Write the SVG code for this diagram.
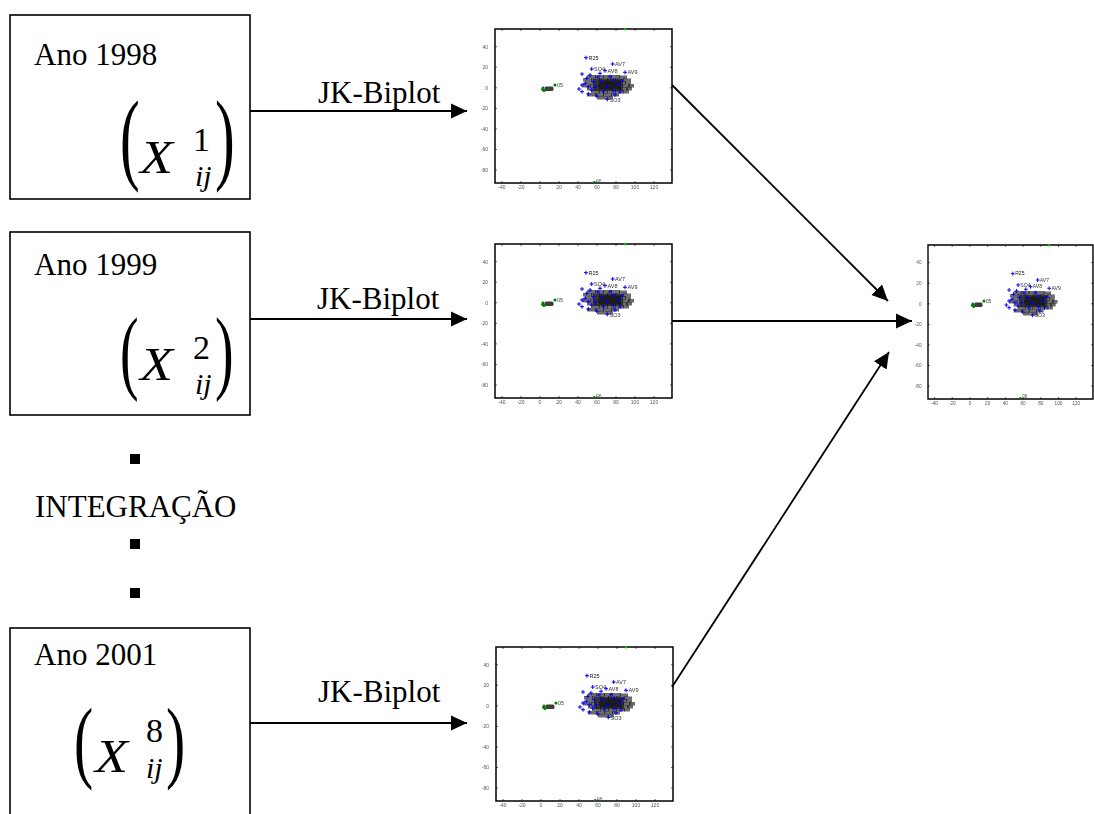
<svg xmlns="http://www.w3.org/2000/svg" xmlns:xlink="http://www.w3.org/1999/xlink" width="1094" height="814" viewBox="0 0 1094 814">
  <style>
    .box{fill:#fff;stroke:#000;stroke-width:1.6}
    .txt{font-family:"Liberation Serif","Times New Roman",serif;font-size:31px;fill:#000}
    .mx{font-family:"Liberation Serif","Times New Roman",serif;font-style:italic;font-size:47px;fill:#000}
    .sup{font-family:"Liberation Serif","Times New Roman",serif;font-size:34px;fill:#000}
    .sub{font-family:"Liberation Serif","Times New Roman",serif;font-style:italic;font-size:30px;fill:#000}
    .par{font-family:"Liberation Serif","Times New Roman",serif;fill:#000}
    .conn{fill:none;stroke:#000;stroke-width:1.8;marker-end:url(#ah)}
    .tk{font-family:"Liberation Sans",Arial,sans-serif;font-size:5px;fill:#555}
    .pl{font-family:"Liberation Sans",Arial,sans-serif;font-size:5.5px;fill:#333}
    .mass{fill:#111;fill-opacity:0.62}
  </style>
  <defs>
    <marker id="ah" markerUnits="userSpaceOnUse" markerWidth="17" markerHeight="16" refX="16" refY="8" orient="auto">
      <path d="M0,0.5 L16,8 L0,15.5 z" fill="#000"/>
    </marker>
    <filter id="soft" x="-10%" y="-10%" width="120%" height="120%">
      <feGaussianBlur stdDeviation="0.4"/>
    </filter>
    <!-- biplot panel in local coordinates: frame 177 x 154 -->
    <g id="biplot">
      <rect x="0" y="0" width="177" height="154" fill="#fff" stroke="#000" stroke-width="1.5"/>
      <!-- tick marks -->
      <path stroke="#000" stroke-width="0.6" fill="none" d="M7,154v-2M26,154v-2M45,154v-2M64,154v-2M83,154v-2M102,154v-2M121,154v-2M140,154v-2M159,154v-2M7,0v2M26,0v2M45,0v2M64,0v2M83,0v2M102,0v2M121,0v2M140,0v2M159,0v2M0,17.7h2M0,38.2h2M0,58.8h2M0,79.4h2M0,99.9h2M0,120.5h2M0,141h2M177,17.7h-2M177,38.2h-2M177,58.8h-2M177,79.4h-2M177,99.9h-2M177,120.5h-2M177,141h-2"/>
      <!-- axis labels -->
      <g class="tk" text-anchor="end">
        <text x="-7" y="19.5">40</text>
        <text x="-7" y="40">20</text>
        <text x="-7" y="60.6">0</text>
        <text x="-7" y="81.2">-20</text>
        <text x="-7" y="101.7">-40</text>
        <text x="-7" y="122.3">-60</text>
        <text x="-7" y="142.8">-80</text>
      </g>
      <g class="tk" text-anchor="middle">
        <text x="7" y="160">-40</text>
        <text x="26" y="160">-20</text>
        <text x="45" y="160">0</text>
        <text x="64" y="160">20</text>
        <text x="83" y="160">40</text>
        <text x="102" y="160">60</text>
        <text x="121" y="160">80</text>
        <text x="140" y="160">100</text>
        <text x="159" y="160">120</text>
      </g>
      <!-- overlapping variable labels form a dark mass -->
      <path class="mass" d="M92,46h9v3.6h-9zM108,46h9v3.6h-9zM124,46.5h8v3.6h-8zM88,49h9v3.6h-9zM104,49h9v3.6h-9zM120,49h9v3.6h-9zM90,52h9v3.6h-9zM106,52h9v3.6h-9zM122,52h9v3.6h-9zM87,55h9v3.6h-9zM103,55h9v3.6h-9zM119,55h9v3.6h-9zM133,55h6v3.6h-6zM92,58h9v3.6h-9zM108,58h9v3.6h-9zM124,58h9v3.6h-9zM96,61h9v3.6h-9zM112,61h9v3.6h-9zM128,61h6v3.6h-6zM92,64h9v3.6h-9zM108,64h9v3.6h-9zM102,67h8v3.4h-8z"/>
      <path class="mass" d="M100,46h9v3.6h-9zM116,46h9v3.6h-9zM96,49h9v3.6h-9zM112,49h9v3.6h-9zM128,49.5h8v3.6h-8zM98,52h9v3.6h-9zM114,52h9v3.6h-9zM130,52h6v3.6h-6zM95,55h9v3.6h-9zM111,55h9v3.6h-9zM127,55h8v3.6h-8zM100,58h9v3.6h-9zM116,58h9v3.6h-9zM131,58h6v3.6h-6zM104,61h9v3.6h-9zM120,61h9v3.6h-9zM100,64h9v3.6h-9zM116,64h8v3.6h-8zM110,67h8v3.4h-8z"/>
      <path class="mass" d="M98,50h30v12h-30z"/>
      <path class="mass" d="M104,51.5h22v9h-22z"/>
      <path stroke="#00f" stroke-width="1" fill="none" d="M89,28.7h4M91,26.7v4M115.7,35h4M117.7,33v4M94.7,40h4M96.7,38v4M108,41.7h4M110,39.7v4M128,43.3h4M130,41.3v4M85,45h4M87,43v4M93,46h4M95,44v4M103,44.3h4M105,42.3v4M113,47.7h4M115,45.7v4M88,54.3h4M90,52.3v4M85,56h4M87,54v4M91.3,57.7h4M93.3,55.7v4M96.3,52.7h4M98.3,50.7v4M104.7,52.7h4M106.7,50.7v4M116.3,51h4M118.3,49v4M121.3,56h4M123.3,54v4M85,62.7h4M87,60.7v4M91.3,65h4M93.3,63v4M99.7,67h4M101.7,65v4M110.3,70.3h4M112.3,68.3v4M106.3,62.7h4M108.3,60.7v4M116.3,61.7h4M118.3,59.7v4M94.7,61h4M96.7,59v4M89.7,49.3h4M91.7,47.3v4M109.7,57.7h4M111.7,55.7v4M98,57.7h4M100,55.7v4M125,52h4M127,50v4M123,63h4M125,61v4M101,48h4M103,46v4M118,66h4M120,64v4M82,60h4M84,58v4"/>
      <g class="pl">
        <text x="93.5" y="30.5" fill="#111">R25</text>
        <text x="120" y="37">AV7</text>
        <text x="99" y="42">SO4</text>
        <text x="112.5" y="43.5">AV8</text>
        <text x="132.5" y="45">AV9</text>
        <text x="114.5" y="72.5">SO3</text>
      </g>
      <!-- individuals -->
      <rect x="49.5" y="57.6" width="9" height="4.4" rx="1.5" fill="#1a1a1a" fill-opacity="0.85"/>
      <g fill="#007f00">
        <circle cx="47.7" cy="60.3" r="1.6"/>
        <circle cx="49" cy="61.5" r="1.6"/>
        <circle cx="48" cy="59" r="1.4"/>
        <circle cx="60" cy="56" r="1.6"/>
        <circle cx="99.3" cy="153.3" r="1.3"/>
      </g>
      <circle cx="130" cy="0.3" r="1.2" fill="#0c0"/>
      <g class="pl">
        <text x="62" y="57.6" fill="#444">05</text>
        <text x="101" y="153.5" font-size="5" fill="#555">06</text>
      </g>
    </g>
  </defs>

  <rect width="1094" height="814" fill="#fff"/>

  <!-- year 1998 -->
  <g id="node-1998">
    <rect class="box" x="10" y="15" width="240" height="184"/>
    <text class="txt" x="34" y="65">Ano 1998</text>
    <text class="par" font-size="102" transform="translate(120,171) scale(0.58,1)">(</text>
    <text class="mx" transform="translate(140,173) scale(1.15,1)">X</text>
    <text class="sup" x="193" y="151">1</text>
    <text class="sub" x="195" y="186">ij</text>
    <text class="par" font-size="102" transform="translate(215,171) scale(0.58,1)">)</text>
  </g>

  <!-- year 1999 -->
  <g id="node-1999">
    <rect class="box" x="10" y="232" width="240" height="183"/>
    <text class="txt" x="34" y="275">Ano 1999</text>
    <text class="par" font-size="93" transform="translate(120,382) scale(0.6,1)">(</text>
    <text class="mx" transform="translate(140,380) scale(1.15,1)">X</text>
    <text class="sup" x="193" y="359">2</text>
    <text class="sub" x="195" y="394">ij</text>
    <text class="par" font-size="93" transform="translate(215,382) scale(0.6,1)">)</text>
  </g>

  <!-- ellipsis and label -->
  <g id="node-integracao">
    <rect x="130" y="454" width="10" height="10" fill="#000"/>
    <text class="txt" x="35" y="517">INTEGRAÇÃO</text>
    <rect x="130" y="539" width="10" height="10" fill="#000"/>
    <rect x="130" y="588" width="10" height="10" fill="#000"/>
  </g>

  <!-- year 2001 -->
  <g id="node-2001">
    <rect class="box" x="10" y="628" width="240" height="200"/>
    <text class="txt" x="34" y="665">Ano 2001</text>
    <text class="par" font-size="90" transform="translate(74,771) scale(0.64,1)">(</text>
    <text class="mx" transform="translate(95,772) scale(1.15,1)">X</text>
    <text class="sup" x="146" y="742">8</text>
    <text class="sub" x="146" y="778">ij</text>
    <text class="par" font-size="90" transform="translate(166,771) scale(0.64,1)">)</text>
  </g>

  <!-- biplot panels -->
  <g id="biplot-1998" transform="translate(495,29)" filter="url(#soft)"><use href="#biplot" xlink:href="#biplot"/></g>
  <g id="biplot-1999" transform="translate(495,244)" filter="url(#soft)"><use href="#biplot" xlink:href="#biplot"/></g>
  <g id="biplot-2001" transform="translate(496,647)" filter="url(#soft)"><use href="#biplot" xlink:href="#biplot"/></g>
  <g id="biplot-consensus" transform="translate(928,245) scale(0.932,1)" filter="url(#soft)"><use href="#biplot" xlink:href="#biplot"/></g>

  <!-- connectors -->
  <g id="connectors">
    <line class="conn" x1="250" y1="111" x2="467" y2="111"/>
    <line class="conn" x1="250" y1="319" x2="467" y2="319"/>
    <line class="conn" x1="250" y1="723" x2="467" y2="723"/>
    <line class="conn" x1="672" y1="85" x2="888" y2="301"/>
    <line class="conn" x1="672" y1="321" x2="912" y2="321"/>
    <line class="conn" x1="672" y1="687" x2="889" y2="352"/>
    <text class="txt" x="318" y="103">JK-Biplot</text>
    <text class="txt" x="317" y="309">JK-Biplot</text>
    <text class="txt" x="318" y="702">JK-Biplot</text>
  </g>
</svg>
